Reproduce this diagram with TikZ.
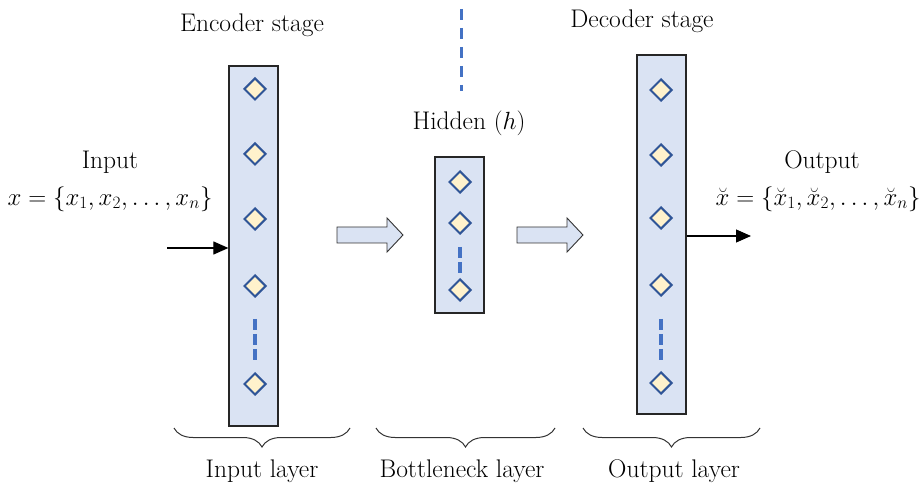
\documentclass[tikz,border=0pt]{standalone}
\usepackage{fontspec}
\usetikzlibrary{shapes.geometric,arrows.meta,decorations.pathreplacing}
\definecolor{layerfill}{HTML}{DAE3F3}
\definecolor{unitfill}{HTML}{FFF2CC}
\definecolor{unitedge}{HTML}{2F5597}
\definecolor{dashblue}{HTML}{4472C4}
\tikzset{
  layerbox/.style={draw=black!85, fill=layerfill, line width=1.3pt, inner sep=0pt},
  unit/.style={diamond, draw=unitedge, fill=unitfill, line width=2pt, minimum size=22pt, inner sep=0pt},
  gap/.style={draw=dashblue, line width=4pt, dash pattern=on 11pt off 4pt},
  flow/.style={draw=black!80, fill=layerfill, line width=0.9pt, line join=miter},
  io/.style={-{Triangle[length=15pt,width=13pt]}, line width=1.2pt},
  lbl/.style={font=\fontsize{25.5}{29}\selectfont, inner sep=0pt},
  mth/.style={font=\fontsize{25}{28}\selectfont, inner sep=0pt},
  grp/.style={decorate, decoration={brace, mirror, amplitude=19pt}, line width=1pt, draw=black!80},
}
\begin{document}
\begin{tikzpicture}[x=1pt,y=-1pt]
\useasboundingbox (0,0) rectangle (919,494);

% layers
\node[layerbox, minimum width=49pt, minimum height=360pt] (enc) at (253.5,246) {};
\node[layerbox, minimum width=49pt, minimum height=156pt] (hid) at (459.5,235) {};
\node[layerbox, minimum width=49pt, minimum height=359pt] (dec) at (661.5,234.5) {};

% encoder units
\foreach \y [count=\i] in {89,154,219,286,384}
  \node[unit] (e\i) at (255,\y) {};
\coordinate (eg1) at (255,319);
\coordinate (eg2) at (255,360);
\draw[gap] (eg1) -- (eg2);

% hidden units
\foreach \y [count=\i] in {182,223,290}
  \node[unit] (h\i) at (460,\y) {};
\coordinate (hg1) at (460,247);
\coordinate (hg2) at (460,274);
\draw[gap] (hg1) -- (hg2);

% decoder units
\foreach \y [count=\i] in {90,155,218,285,383}
  \node[unit] (d\i) at (661,\y) {};
\coordinate (dg1) at (661,319);
\coordinate (dg2) at (661,360);
\draw[gap] (dg1) -- (dg2);

% separator above the bottleneck
\coordinate (sep1) at (461,9);
\coordinate (sep2) at (461,91);
\draw[draw=dashblue, line width=3pt, dash pattern=on 11pt off 8pt] (sep1) -- (sep2);

% block arrows between the layers
\foreach \n/\x in {f1/337, f2/517}{
  \draw[flow] (\x,227) -- ++(50,0) -- ++(0,-9) -- ++(16,17) -- ++(-16,17)
    -- ++(0,-9) -- ++(-50,0) -- cycle;
  \coordinate (\n) at (\x+33,235);
}

% input / output arrows
\coordinate (inStart) at (167,248);
\draw[io] (inStart) -- (enc.west |- inStart);
\coordinate (outEnd) at (751,236);
\draw[io] (dec.east |- outEnd) -- (outEnd);

% titles
\node[lbl] (encT) at (252,25) {Encoder stage};
\node[lbl] (decT) at (642,21) {Decoder stage};
\node[lbl] (hidT) at (469,123) {Hidden $(h)$};
\node[lbl] (inT) at (110,162) {Input};
\node[mth] (inF) at (110,199) {$x=\{x_1,x_2,\ldots,x_n\}$};
\node[lbl] (outT) at (822,162) {Output};
\node[mth] (outF) at (818,199) {$\breve{x}=\{\breve{x}_1,\breve{x}_2,\ldots,\breve{x}_n\}$};

% group braces
\coordinate (b1a) at (174,428); \coordinate (b1b) at (350,428);
\coordinate (b2a) at (376,428); \coordinate (b2b) at (555,428);
\coordinate (b3a) at (583,428); \coordinate (b3b) at (760,428);
\draw[grp] (b1a) -- (b1b);
\draw[grp] (b2a) -- (b2b);
\draw[grp] (b3a) -- (b3b);

\node[lbl] (l1) at (262,471) {Input layer};
\node[lbl] (l2) at (462,471) {Bottleneck layer};
\node[lbl] (l3) at (674,471) {Output layer};
\end{tikzpicture}
\end{document}
